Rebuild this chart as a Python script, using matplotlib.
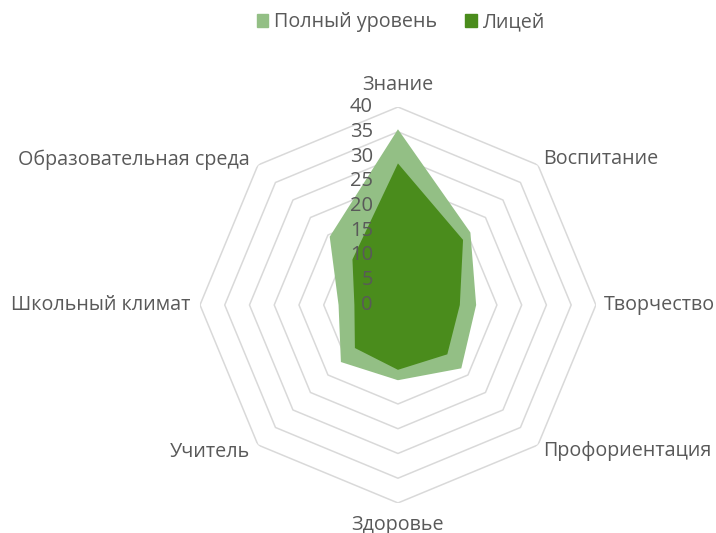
import numpy as np
import matplotlib.pyplot as plt
from matplotlib.patches import Patch

plt.rcParams['font.family'] = ['Open Sans', 'DejaVu Sans']

categories = ['Знание', 'Воспитание', 'Творчество', 'Профориентация',
              'Здоровье', 'Учитель', 'Школьный климат', 'Образовательная среда']
full_level = [35.5, 20.7, 15.8, 18.1, 15.2, 16.3, 12.0, 19.5]
lyceum = [28.6, 18.6, 12.5, 14.1, 13.1, 12.3, 8.8, 13.0]
ticks = [0, 5, 10, 15, 20, 25, 30, 35, 40]

c_full = '#93BF85'
c_lyc = '#4A8C1C'
c_text = '#595959'

fig = plt.figure(figsize=(7.16, 5.33), dpi=100)
ax = fig.add_axes([0.2793, 0.0563, 0.553, 0.743], projection='polar')
ax.set_theta_zero_location('N')
ax.set_theta_direction(-1)

n = len(categories)
theta = np.linspace(0, 2 * np.pi, n, endpoint=False)
th_closed = np.append(theta, theta[0])

# polygon grid
for r in ticks[1:]:
    ax.plot(th_closed, [r] * (n + 1), color='#D9D9D9', lw=1.1, zorder=1)

ax.fill(th_closed, full_level + full_level[:1], color=c_full, lw=0, zorder=2)
ax.fill(th_closed, lyceum + lyceum[:1], color=c_lyc, lw=0, zorder=3)

ax.set_ylim(0, 40)
ax.set_xticks([])
ax.set_yticks([])
ax.grid(False)
ax.spines['polar'].set_visible(False)
ax.patch.set_alpha(0)

# radial tick labels
for v in ticks:
    ax.annotate(str(v), xy=(0, v), xytext=(-18, 0), textcoords='offset points',
                ha='right', va='center', fontsize=14.5, color=c_text, zorder=5)

# category labels: (dx, dy) in points, ha, va
label_pos = [((0, 16), 'center', 'center'),
             ((4, 4), 'left', 'center'),
             ((6, 0), 'left', 'center'),
             ((4, -4), 'left', 'center'),
             ((0, -16), 'center', 'center'),
             ((-6, -5), 'right', 'center'),
             ((-7, 0), 'right', 'center'),
             ((-6, 4), 'right', 'center')]
for t, lab, (off, ha, va) in zip(theta, categories, label_pos):
    ax.annotate(lab, xy=(t, 40), xytext=off, textcoords='offset points',
                ha=ha, va=va, fontsize=14.2, color=c_text, annotation_clip=False)

handles = [Patch(color=c_full, label='Полный уровень'),
           Patch(color=c_lyc, label='Лицей')]
leg = fig.legend(handles=handles, loc='upper center', bbox_to_anchor=(0.56, 1.01),
                 ncol=2, frameon=False, fontsize=14.2, handlelength=0.6,
                 handleheight=0.6, handletextpad=0.3, columnspacing=1.4)
for txt in leg.get_texts():
    txt.set_color(c_text)

fig.savefig('out.png', dpi=100)
